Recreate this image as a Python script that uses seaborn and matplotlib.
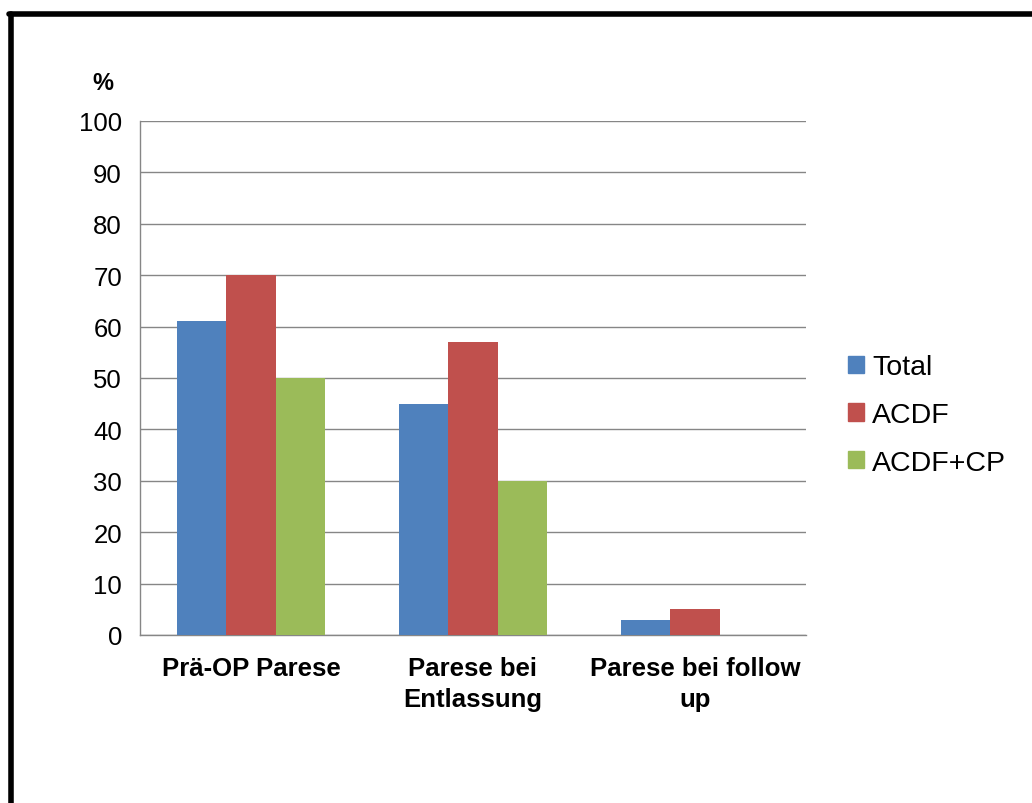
import numpy as np
import pandas as pd
import seaborn as sns
import matplotlib.pyplot as plt
from matplotlib.lines import Line2D

categories = ["Prä-OP Parese", "Parese bei\nEntlassung", "Parese bei follow\nup"]
groups = ["Total", "ACDF", "ACDF+CP"]
total = [61, 45, 3]
acdf = [70, 57, 5]
acdf_cp = [50, 30, 0]
colors = ["#4F81BD", "#C0504D", "#9BBB59"]

df = pd.DataFrame({
    "Kategorie": categories * 3,
    "Gruppe": [g for g in groups for _ in categories],
    "Wert": total + acdf + acdf_cp,
})

sns.set_style("white")
plt.rcParams["font.family"] = ["Liberation Sans", "DejaVu Sans"]
plt.rcParams["text.color"] = "black"
plt.rcParams["xtick.labelcolor"] = "black"
plt.rcParams["ytick.labelcolor"] = "black"

fig = plt.figure(figsize=(10.32, 8.04), dpi=100)
ax = fig.add_axes([140 / 1032, 1 - 636 / 804, 666 / 1032, 514 / 804])

sns.barplot(data=df, x="Kategorie", y="Wert", hue="Gruppe", order=categories,
            hue_order=groups, palette=colors, width=0.667, saturation=1,
            linewidth=0, ax=ax, zorder=3)

ax.set_ylim(0, 100)
ax.set_xlim(-0.5, 2.5)
ax.set_yticks(range(0, 101, 10))
ax.yaxis.grid(True, color="#868686", linewidth=1, zorder=0)
ax.set_axisbelow(True)
ax.set_xlabel("")
ax.set_ylabel("")

for s in ["top", "right"]:
    ax.spines[s].set_visible(False)
for s in ["left", "bottom"]:
    ax.spines[s].set_color("#868686")
    ax.spines[s].set_linewidth(1)

ax.tick_params(axis="y", length=6, width=1, color="#868686", labelsize=18.5,
               pad=7, labelcolor="black")
ax.tick_params(axis="x", which="major", length=0, labelsize=18.5, pad=15,
               labelcolor="black")
ax.set_xticks([-0.5, 0.5, 1.5, 2.5], minor=True)
ax.tick_params(axis="x", which="minor", length=6, width=1, color="#868686")
for lbl in ax.get_xticklabels():
    lbl.set_fontweight("bold")
    lbl.set_linespacing(1.4)

ax.text(-0.056, 1.075, "%", transform=ax.transAxes, fontsize=17,
        fontweight="bold", ha="center", va="center", color="black")

handles = [plt.Rectangle((0, 0), 1, 1, color=c) for c in colors]
leg = ax.legend(handles, groups, loc="center left", bbox_to_anchor=(1.046, 0.428),
                frameon=False, fontsize=20.5, handlelength=0.55, handleheight=0.55,
                handletextpad=0.3, labelspacing=0.76, borderaxespad=0)
for t in leg.get_texts():
    t.set_color("black")

# black frame (left and top edges visible in the reference)
fig.add_artist(Line2D([10.5 / 1032, 10.5 / 1032], [0, 1 - 14.5 / 804],
                      color="black", linewidth=4, transform=fig.transFigure))
fig.add_artist(Line2D([8.5 / 1032, 1], [1 - 14.5 / 804, 1 - 14.5 / 804],
                      color="black", linewidth=4, transform=fig.transFigure))

plt.savefig("out.png", dpi=100)
plt.close()
